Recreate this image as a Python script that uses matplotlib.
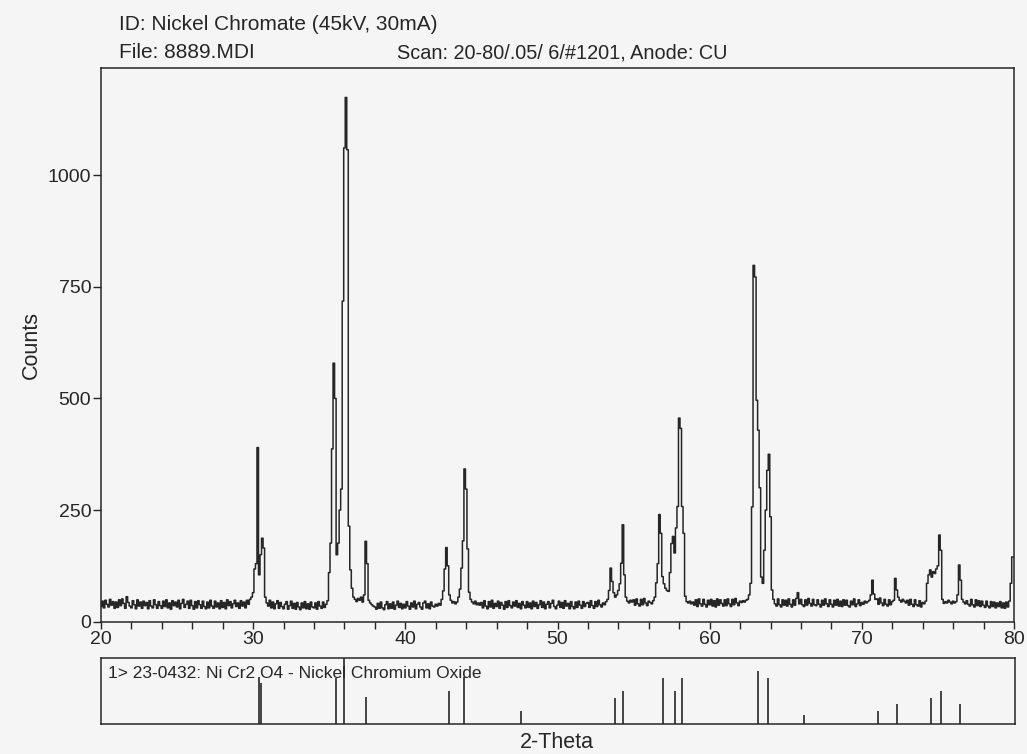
import numpy as np
import matplotlib
matplotlib.use("Agg")
import matplotlib.pyplot as plt
from matplotlib.ticker import MultipleLocator

plt.rcParams['font.family'] = ['Liberation Sans', 'DejaVu Sans']

# ---- data ----
title_id = "ID: Nickel Chromate (45kV, 30mA)"
title_file = "File: 8889.MDI"
title_scan = "Scan: 20-80/.05/ 6/#1201, Anode: CU"
ref_label = "1> 23-0432: Ni Cr2 O4 - Nickel Chromium Oxide"

# measured counts, 0.1 deg steps; one row per degree (x.0 ... x.9)
rows = {
    20: [34, 46, 31, 48, 39, 33, 50, 37, 45, 30],
    21: [44, 32, 49, 36, 51, 41, 30, 56, 43, 35],
    22: [31, 47, 38, 29, 49, 35, 44, 30, 46, 36],
    23: [43, 29, 47, 35, 31, 49, 38, 30, 45, 36],
    24: [30, 46, 34, 49, 31, 42, 28, 47, 36, 44],
    25: [33, 48, 29, 41, 50, 32, 39, 46, 30, 48],
    26: [36, 28, 45, 31, 47, 38, 30, 46, 34, 29],
    27: [44, 31, 48, 35, 30, 46, 33, 42, 29, 47],
    28: [32, 43, 29, 49, 36, 45, 31, 40, 48, 34],
    29: [42, 30, 47, 35, 44, 31, 48, 39, 50, 55],
    30: [65, 118, 130, 390, 105, 150, 187, 165, 55, 42],
    31: [35, 48, 31, 44, 29, 40, 47, 30, 43, 34],
    32: [29, 39, 45, 28, 36, 46, 30, 41, 28, 43],
    33: [33, 27, 42, 31, 45, 29, 40, 28, 44, 33],
    34: [31, 42, 28, 45, 35, 30, 44, 32, 39, 47],
    35: [110, 176, 387, 579, 500, 150, 176, 250, 297, 718],
    36: [1061, 1174, 1057, 214, 116, 75, 55, 50, 45, 52],
    37: [48, 55, 44, 60, 180, 130, 48, 42, 38, 35],
    38: [33, 28, 41, 30, 44, 31, 27, 38, 45, 29],
    39: [40, 30, 44, 28, 37, 46, 32, 41, 29, 39],
    40: [31, 45, 35, 28, 42, 33, 46, 29, 39, 43],
    41: [33, 28, 42, 46, 31, 40, 29, 44, 35, 33],
    42: [39, 35, 41, 37, 50, 69, 118, 166, 125, 60],
    43: [48, 42, 45, 40, 44, 55, 73, 120, 181, 342],
    44: [297, 163, 66, 50, 44, 40, 46, 38, 42, 37],
    45: [43, 31, 47, 35, 29, 45, 33, 48, 30, 41],
    46: [34, 46, 30, 43, 37, 28, 45, 32, 47, 36],
    47: [31, 44, 35, 47, 32, 41, 29, 45, 37, 31],
    48: [45, 32, 42, 29, 46, 34, 43, 30, 38, 47],
    49: [32, 44, 29, 39, 45, 31, 41, 48, 34, 29],
    50: [37, 46, 32, 43, 30, 47, 35, 41, 29, 45],
    51: [34, 29, 44, 32, 46, 37, 30, 45, 34, 41],
    52: [43, 32, 47, 36, 30, 45, 34, 48, 38, 33],
    53: [42, 38, 45, 50, 70, 120, 90, 65, 55, 60],
    54: [70, 85, 131, 217, 105, 55, 46, 42, 48, 44],
    55: [49, 37, 51, 40, 35, 50, 38, 52, 42, 36],
    56: [46, 43, 40, 47, 55, 87, 130, 240, 198, 101],
    57: [85, 75, 70, 68, 110, 175, 191, 154, 210, 258],
    58: [456, 433, 258, 198, 57, 45, 42, 46, 40, 44],
    59: [37, 49, 34, 51, 40, 35, 50, 39, 33, 48],
    60: [38, 50, 35, 47, 33, 51, 37, 49, 41, 35],
    61: [49, 36, 51, 40, 34, 50, 38, 52, 42, 36],
    62: [46, 43, 47, 44, 48, 50, 60, 86, 257, 798],
    63: [772, 496, 429, 300, 100, 86, 160, 250, 339, 375],
    64: [235, 71, 50, 40, 35, 51, 38, 33, 49, 37],
    65: [48, 35, 51, 39, 33, 49, 37, 52, 65, 40],
    66: [50, 38, 34, 49, 37, 52, 41, 35, 50, 38],
    67: [36, 49, 39, 33, 48, 37, 51, 40, 34, 49],
    68: [39, 33, 48, 37, 50, 35, 46, 34, 49, 37],
    69: [48, 36, 33, 46, 38, 51, 34, 40, 49, 36],
    70: [43, 39, 46, 42, 45, 48, 60, 93, 62, 50],
    71: [51, 39, 53, 42, 36, 50, 39, 35, 49, 38],
    72: [45, 48, 97, 71, 55, 48, 44, 50, 46, 42],
    73: [48, 37, 50, 39, 34, 49, 38, 35, 47, 33],
    74: [43, 40, 46, 86, 105, 116, 100, 112, 108, 118],
    75: [125, 194, 160, 50, 41, 45, 42, 48, 44, 40],
    76: [46, 42, 45, 60, 127, 93, 50, 44, 40, 47],
    77: [39, 35, 50, 38, 33, 49, 36, 47, 34, 46],
    78: [37, 32, 46, 35, 31, 45, 34, 44, 31, 42],
    79: [34, 45, 31, 42, 30, 44, 33, 46, 86, 145],
    80: [145],
}

# reference pattern 23-0432 (2-theta, relative intensity)
ref_two_theta = [30.34, 30.51, 35.44, 35.97, 37.39, 42.86, 43.85, 47.58,
                 53.71, 54.25, 56.90, 57.65, 58.11, 63.15, 63.80, 66.12,
                 71.03, 72.23, 74.51, 75.17, 76.37]
ref_intensity = [0.71, 0.62, 0.69, 1.00, 0.41, 0.50, 0.71, 0.20,
                 0.40, 0.50, 0.70, 0.50, 0.70, 0.80, 0.70, 0.14,
                 0.20, 0.30, 0.40, 0.50, 0.30]

x_ticks = [20, 30, 40, 50, 60, 70, 80]
y_ticks = [0, 250, 500, 750, 1000]

two_theta = []
counts = []
for deg, vals in rows.items():
    for j, v in enumerate(vals):
        two_theta.append(deg + 0.1 * j)
        counts.append(v)

# ---- drawing ----
W, H = 1027, 754
bg = '#f5f5f5'
ink = '#262626'
fig = plt.figure(figsize=(W / 100, H / 100), dpi=100, facecolor=bg)

ax = fig.add_axes([101 / W, (H - 621.7) / H, 913 / W, (621.7 - 68) / H])
ax.set_facecolor(bg)
ax.plot(two_theta, counts, drawstyle='steps-mid', color=ink, lw=1.1)
ax.set_xlim(20, 80)
ax.set_ylim(0, 1240)
ax.set_xticks(x_ticks)
ax.xaxis.set_minor_locator(MultipleLocator(2))
ax.set_yticks(y_ticks)
ax.set_yticklabels([str(v) for v in y_ticks])
ax.tick_params(axis='x', which='both', direction='out', length=5, width=1.0,
               color=ink, labelsize=14, labelcolor=ink, pad=2)
ax.tick_params(axis='y', which='both', direction='out', length=6, width=1.0,
               color=ink, labelsize=14, labelcolor=ink, pad=1)
for s in ax.spines.values():
    s.set_color(ink)
    s.set_linewidth(1.1)
ax.set_ylabel("Counts", fontsize=15.5, color=ink, labelpad=4)

# reference stick panel
rax = fig.add_axes([101 / W, (H - 724) / H, 914 / W, 66 / H])
rax.set_facecolor(bg)
rax.vlines(ref_two_theta, 0, ref_intensity, color=ink, lw=1.2)
rax.set_xlim(20, 80)
rax.set_ylim(0, 1.0)
rax.set_xticks([])
rax.set_yticks([])
for s in rax.spines.values():
    s.set_color(ink)
    s.set_linewidth(1.1)
rax.text(0.008, 0.77, ref_label, transform=rax.transAxes, fontsize=12.5,
         color=ink, va='center', ha='left')

fig.text(119 / W, 1 - 25 / H, title_id, fontsize=15, color=ink, va='center', ha='left')
fig.text(119 / W, 1 - 53 / H, title_file, fontsize=15, color=ink, va='center', ha='left')
fig.text(397 / W, 1 - 53 / H, title_scan, fontsize=14.3, color=ink, va='center', ha='left')
fig.text(557 / W, 1 - 742 / H, "2-Theta", fontsize=15.5, color=ink, va='center', ha='center')

fig.savefig("out.png", dpi=100, facecolor=bg)
